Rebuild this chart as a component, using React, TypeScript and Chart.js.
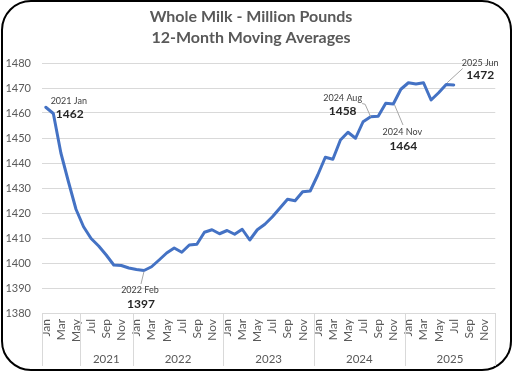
import { useEffect, useRef } from 'react';
import { Chart, registerables } from 'chart.js';

Chart.register(...registerables);

// ---------- DATA ----------
const monthNames = ['Jan', 'Feb', 'Mar', 'Apr', 'May', 'Jun', 'Jul', 'Aug', 'Sep', 'Oct', 'Nov', 'Dec'];
const yearsCovered = [2021, 2022, 2023, 2024, 2025];

const values2021 = [1462.3, 1459.8, 1444.0, 1432.5, 1421.5, 1414.5, 1409.8, 1406.8, 1403.2, 1399.2, 1399.0, 1398.0];
const values2022 = [1397.4, 1397.0, 1398.5, 1401.2, 1404.0, 1406.0, 1404.3, 1407.2, 1407.5, 1412.3, 1413.3, 1411.7];
const values2023 = [1413.0, 1411.5, 1413.5, 1409.2, 1413.3, 1415.5, 1418.5, 1422.0, 1425.5, 1424.9, 1428.5, 1428.8];
const values2024 = [1435.2, 1442.3, 1441.5, 1449.2, 1452.3, 1449.9, 1456.5, 1458.5, 1458.7, 1463.9, 1463.6, 1469.5];
const values2025 = [1472.1, 1471.6, 1472.1, 1465.2, 1468.1, 1471.4, 1471.2, null, null, null, null, null];

// outer category groups (start index into the month list)
const yearGroupLabels = ['', '2021', '2022', '2023', '2024', '2025'];
const yearGroupStarts = [0, 5, 12, 24, 36, 48];

const yTicksMin = 1380;
const yTicksMax = 1480;
const yTicksStep = 10;

const titleLines = ['Whole Milk - Million Pounds', '12-Month Moving Averages'];

// data callouts: category index, period text, value text
const calloutIndex = [0, 13, 43, 46, 53];
const calloutPeriod = ['2021 Jan', '2022 Feb', '2024 Aug', '2024 Nov', '2025 Jun'];
const calloutValue = ['1462', '1397', '1458', '1464', '1472'];

// ---------- derived ----------
const monthLabels = yearsCovered.flatMap(() => monthNames);
const seriesValues = [...values2021, ...values2022, ...values2023, ...values2024, ...values2025];

// callout label placement (styling, relative to the data point in px)
const calloutLayout = [
  { small: [23, -6], big: [24, 7], leader: [] as number[][] },
  { small: [-4, 20], big: [-3, 34], leader: [[0, 1], [-3, 13.5]] },
  { small: [-28, -19], big: [-28, -5.5], leader: [[0, 0], [-5.5, -12.5], [-8.5, -13.2]] },
  { small: [9, 28], big: [10, 42], leader: [[1.3, 1], [9.7, 21]] },
  { small: [34, -21.7], big: [34, -9.3], leader: [[0.9, -1.7], [16.5, -16]] },
];

const FONT = 'Lato, "Noto Sans", sans-serif';

const axisExtrasPlugin = {
  id: 'axisExtras',
  afterDraw(chart: any) {
    const { ctx, chartArea } = chart;
    const xs = chart.scales.x;
    const ys = chart.scales.y;
    const half = (xs.getPixelForValue(1) - xs.getPixelForValue(0)) / 2;
    const n = monthLabels.length;
    ctx.save();
    // group separators
    ctx.strokeStyle = '#d9d9d9';
    ctx.lineWidth = 1;
    const bounds = yearGroupStarts.map((s) => xs.getPixelForValue(s) - half);
    bounds.push(xs.getPixelForValue(n - 1) + half);
    bounds.forEach((bx) => {
      const px = Math.round(bx) + 0.5;
      ctx.beginPath();
      ctx.moveTo(px, chartArea.bottom);
      ctx.lineTo(px, chartArea.bottom + 53);
      ctx.stroke();
    });
    // group labels
    ctx.fillStyle = '#595959';
    ctx.font = `11.5px ${FONT}`;
    ctx.textAlign = 'center';
    ctx.textBaseline = 'middle';
    yearGroupLabels.forEach((lab, i) => {
      if (!lab) return;
      const cx = (bounds[i] + bounds[i + 1]) / 2;
      ctx.fillText(lab, cx, chartArea.bottom + 46);
    });

    // callouts
    calloutIndex.forEach((idx, k) => {
      const px = xs.getPixelForValue(idx);
      const py = ys.getPixelForValue(seriesValues[idx] as number);
      const lay = calloutLayout[k];
      if (lay.leader.length) {
        ctx.strokeStyle = '#a6a6a6';
        ctx.lineWidth = 1;
        ctx.beginPath();
        lay.leader.forEach((p, j) => {
          if (j === 0) ctx.moveTo(px + p[0], py + p[1]);
          else ctx.lineTo(px + p[0], py + p[1]);
        });
        ctx.stroke();
      }
      ctx.textAlign = 'center';
      ctx.textBaseline = 'middle';
      ctx.fillStyle = '#404040';
      ctx.font = `9px ${FONT}`;
      ctx.fillText(calloutPeriod[k], px + lay.small[0], py + lay.small[1]);
      ctx.fillStyle = '#262626';
      ctx.font = `bold 12px ${FONT}`;
      ctx.fillText(calloutValue[k], px + lay.big[0], py + lay.big[1]);
    });
    ctx.restore();
  },
};

export default function App() {
  const canvasRef = useRef<HTMLCanvasElement | null>(null);

  useEffect(() => {
    if (!canvasRef.current) return;
    const chart = new Chart(canvasRef.current, {
      type: 'line',
      data: {
        labels: monthLabels,
        datasets: [
          {
            label: 'Whole Milk',
            data: seriesValues,
            borderColor: '#4472C4',
            backgroundColor: '#4472C4',
            borderWidth: 3,
            pointRadius: 0,
            tension: 0,
            spanGaps: false,
            borderJoinStyle: 'round',
            borderCapStyle: 'round',
          },
        ],
      },
      options: {
        animation: false,
        responsive: false,
        maintainAspectRatio: false,
        layout: { padding: { left: 0, right: 10, top: 0, bottom: 4 } },
        plugins: {
          legend: { display: false },
          tooltip: { enabled: false },
          title: {
            display: true,
            text: titleLines,
            color: '#595959',
            font: { family: FONT, size: 16, weight: 'bold', lineHeight: 1.3 },
            padding: { top: 6.6, bottom: 14.8 },
          },
        },
        scales: {
          x: {
            type: 'category',
            offset: true,
            grid: { display: false, drawTicks: false },
            border: { display: true, color: '#d9d9d9', width: 1 },
            ticks: {
              autoSkip: false,
              maxRotation: 90,
              minRotation: 90,
              padding: 6,
              color: '#595959',
              font: { family: FONT, size: 12 },
              callback: (_v: any, i: number) => (i % 2 === 0 ? monthLabels[i] : ''),
            },
            afterFit: (scale: any) => {
              scale.height = 55;
            },
          },
          y: {
            min: yTicksMin,
            max: yTicksMax,
            grid: { color: '#d9d9d9', lineWidth: 1, drawTicks: false },
            border: { display: false },
            ticks: {
              stepSize: yTicksStep,
              padding: 11,
              color: '#595959',
              font: { family: FONT, size: 11 },
              callback: (v: any) => String(v),
            },
            afterFit: (scale: any) => {
              scale.width = 42;
            },
          },
        },
      },
      plugins: [axisExtrasPlugin],
    });
    return () => chart.destroy();
  }, []);

  return (
    <div style={{ position: 'absolute', left: 0, top: 0, width: 512, height: 372, background: '#fff' }}>
      <div
        style={{
          position: 'absolute',
          left: 1,
          top: 0,
          width: 511,
          height: 371,
          boxSizing: 'border-box',
          border: '2px solid #000',
          borderRadius: 30,
        }}
      />
      <canvas
        ref={canvasRef}
        width={512}
        height={372}
        style={{ position: 'absolute', left: 0, top: 0, width: 512, height: 372 }}
      />
    </div>
  );
}
